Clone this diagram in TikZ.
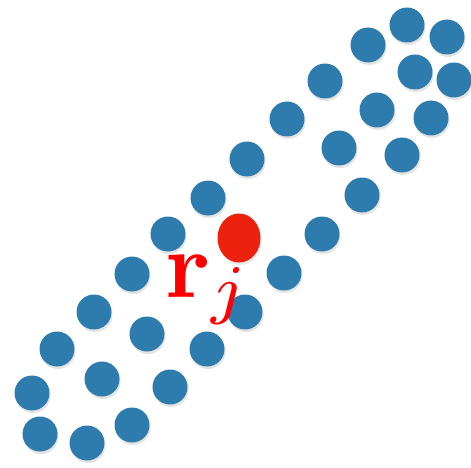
\documentclass[tikz,border=0pt]{standalone}
\usetikzlibrary{shadows,shapes.geometric}
\definecolor{dotblue}{RGB}{46,124,173}
\definecolor{dotred}{RGB}{236,34,14}
\definecolor{txtred}{RGB}{255,0,0}
\begin{document}
\begin{tikzpicture}[x=1pt,y=-1pt,
  bdot/.style={circle,fill=dotblue,minimum size=35pt,inner sep=0pt,
    drop shadow={opacity=0.22,shadow xshift=1pt,shadow yshift=-2.5pt}},
  rdot/.style={ellipse,fill=dotred,minimum width=43pt,minimum height=49pt,inner sep=0pt,
    drop shadow={opacity=0.18,shadow xshift=1pt,shadow yshift=-2.5pt}},
  lbl/.style={text=txtred,inner sep=0pt,scale=9.5}]
\useasboundingbox (0,0) rectangle (471,468);
% outer band
\foreach \x/\y [count=\i] in {368/45,325/81,287/119,247/159,208/198,168/234,132/274,94/312,57/349,32/393,
  40/434,87/443,132/425,170/387,207/349,245/312,284/273,322/234,362/195,402/155,431/118,454/80,447/37,407/25}
  \node[bdot] (o\i) at (\x,\y) {};
% inner band
\foreach \x/\y [count=\i] in {415/72,377/110,339/148,147/334,102/379}
  \node[bdot] (n\i) at (\x,\y) {};
\node[rdot] (rj) at (239,238) {};
\node[lbl,anchor=base west] (label) at (164,297) {$\mathbf{r}_j$};
\end{tikzpicture}
\end{document}
